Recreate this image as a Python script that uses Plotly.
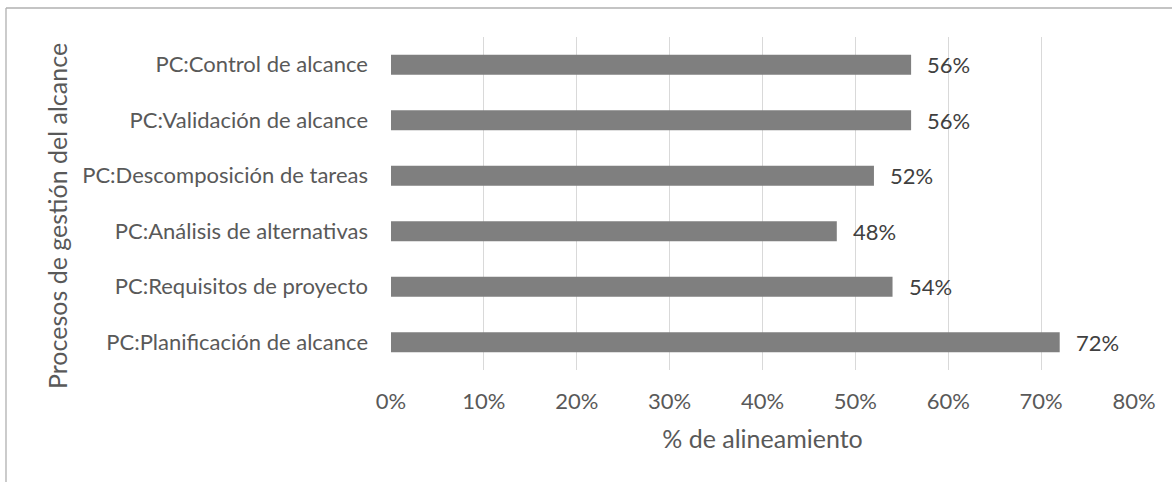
import plotly.graph_objects as go

categories = [
    "PC:Planificación de alcance",
    "PC:Requisitos de proyecto",
    "PC:Análisis de alternativas",
    "PC:Descomposición de tareas",
    "PC:Validación de alcance",
    "PC:Control de alcance",
]
values = [0.72, 0.54, 0.48, 0.52, 0.56, 0.56]
x_ticks = [0, 0.1, 0.2, 0.3, 0.4, 0.5, 0.6, 0.7, 0.8]
x_tick_labels = ["0%", "10%", "20%", "30%", "40%", "50%", "60%", "70%", "80%"]
x_title = "% de alineamiento"
y_title = "Procesos de gestión del alcance"

FONT = "Lato"
TXT = "#595959"
W, H = 1172, 482
ML, MR, MT, MB = 391, 38, 37, 112
PW, PH = W - ML - MR, H - MT - MB

fig = go.Figure()
fig.add_trace(go.Bar(
    y=categories, x=values, orientation="h",
    marker=dict(color="#7f7f7f", line=dict(width=0)),
    width=0.36,
    hoverinfo="skip",
))

for c, v in zip(categories, values):
    fig.add_annotation(x=v, y=c, xref="x", yref="y", text=f"{round(v*100)}%",
                       showarrow=False, xanchor="left", xshift=14,
                       font=dict(family=FONT, size=22, color="#404040"))

# y-axis title placed as in the original (slightly below plot centre)
fig.add_annotation(text=y_title, textangle=-90, showarrow=False,
                   xref="paper", yref="paper",
                   x=(57 - ML) / PW, y=1 - (216 - MT) / PH,
                   xanchor="center", yanchor="middle",
                   font=dict(family=FONT, size=25, color=TXT))

fig.update_layout(
    width=W, height=H,
    margin=dict(l=ML, r=MR, t=MT, b=MB),
    paper_bgcolor="white", plot_bgcolor="white",
    font=dict(family=FONT, size=22, color=TXT),
    showlegend=False,
    xaxis=dict(
        range=[0, 0.8], tickvals=x_ticks, ticktext=x_tick_labels,
        showgrid=True, gridcolor="#d9d9d9", gridwidth=1.4,
        zeroline=False, showline=False,
        ticklabelstandoff=16,
        tickfont=dict(family=FONT, size=22, color=TXT),
        title=dict(text=x_title, standoff=17,
                   font=dict(family=FONT, size=25, color=TXT)),
    ),
    yaxis=dict(
        categoryorder="array", categoryarray=categories,
        showgrid=False, zeroline=False, showline=False,
        ticklabelstandoff=22,
        tickfont=dict(family=FONT, size=22, color=TXT),
    ),
)
# chart frame (top and left edges visible)
fx = -385 / PW
fy = 1 + 29 / PH
fig.add_shape(type="line", xref="paper", yref="paper", x0=fx, x1=1.2, y0=fy, y1=fy,
              line=dict(color="#b0b0b0", width=1.3))
fig.add_shape(type="line", xref="paper", yref="paper", x0=fx, x1=fx, y0=-0.5, y1=fy,
              line=dict(color="#b0b0b0", width=1.3))

fig.write_html("out.html")
